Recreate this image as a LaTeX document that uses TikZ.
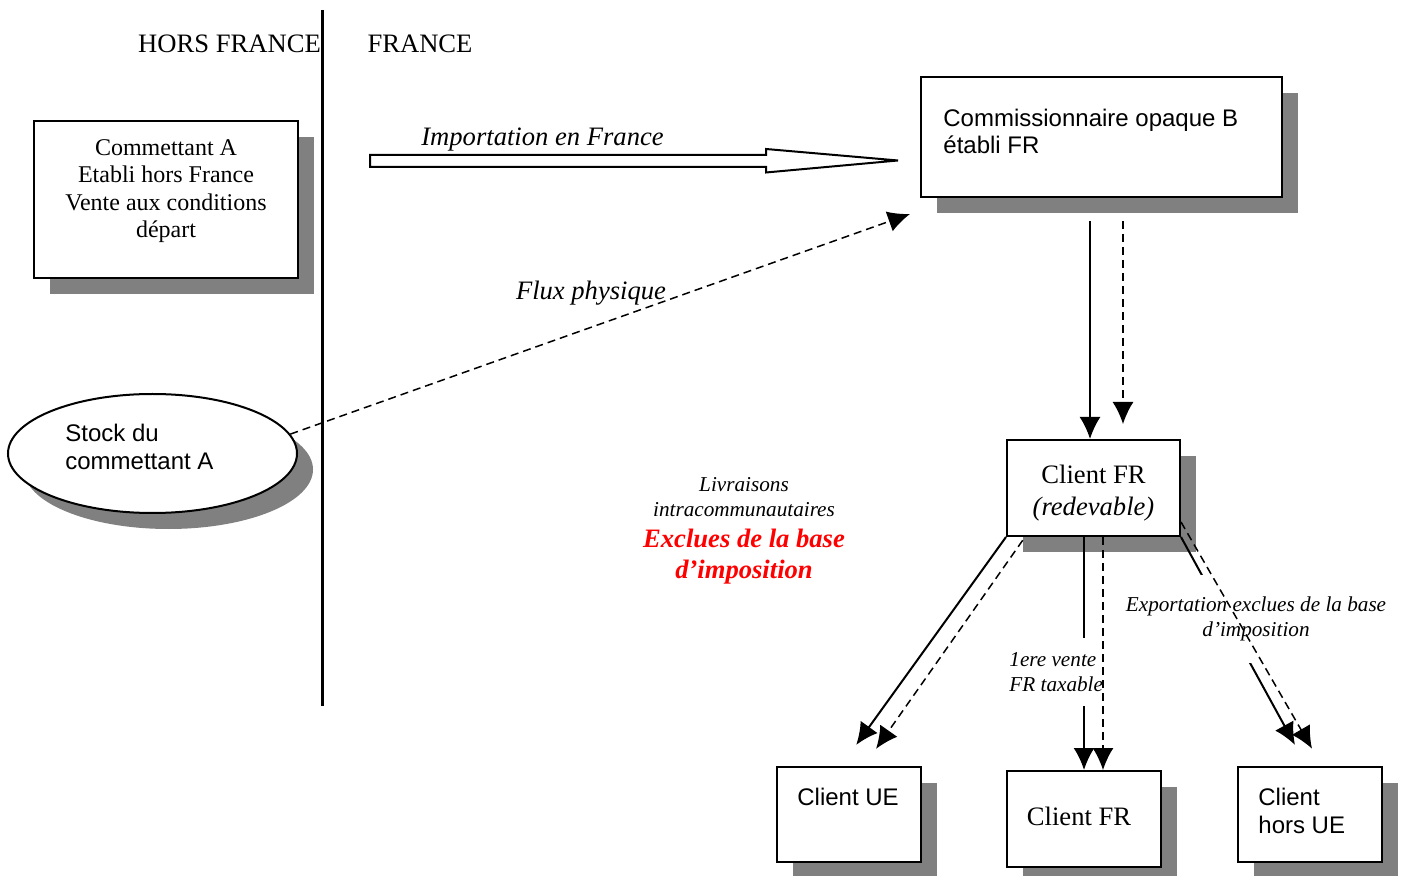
\documentclass[tikz,border=0pt]{standalone}
\usepackage{fontspec}
\setmainfont{Liberation Serif}
\newfontfamily\arialfont{Liberation Sans}
\usetikzlibrary{arrows.meta,shapes.geometric,shadows}
\begin{document}
\begin{tikzpicture}[x=0.5pt, y=-0.5pt, >={Latex[length=11pt,width=10.5pt]},
    ombre/.style={draw, line width=1pt, fill=white, inner sep=0pt,
        drop shadow={shadow xshift=8pt, shadow yshift=-8pt, fill=black!50, opacity=1}},
    txt/.style={inner sep=0pt, align=center, font=\fontsize{12}{13.7}\selectfont},
    gros/.style={inner sep=0pt, align=center, font=\fontsize{13.3}{16}\selectfont},
    arial/.style={inner sep=0pt, align=left, anchor=west, font=\arialfont\fontsize{12}{13.8}\selectfont},
    lab/.style={inner sep=0pt, font=\fontsize{13.3}{16}\selectfont\itshape},
    petit/.style={align=center, font=\fontsize{10.6}{12.5}\selectfont\itshape},
    plein/.style={->, line width=1pt},
    tiret/.style={->, line width=0.75pt, dash pattern=on 4pt off 2.5pt}]
\useasboundingbox (0,0) rectangle (1407,876);
\draw[line width=1.5pt] (322,10)--(322,706);
\node[gros] (hors) at (229.5,44) {HORS FRANCE};
\node[gros] (france) at (420,44) {FRANCE};
\node[ombre, minimum width=132pt, minimum height=78.5pt] (comA) at (166,199.5) {};
\node[txt] (comAtxt) at (166,191) {Commettant A\\Etabli hors France\\Vente aux conditions\\départ};
\node[ombre, ellipse, minimum width=144.5pt, minimum height=59.5pt] (stock) at (152.5,453.5) {};
\node[arial] (stocktxt) at (65,447) {Stock du\\commettant A};
\node[ombre, minimum width=180.5pt, minimum height=60pt] (comB) at (1101.5,137) {};
\node[arial] (comBtxt) at (943,131.5) {Commissionnaire opaque B\\établi FR};
\node[ombre, minimum width=86.5pt, minimum height=48pt] (clientR) at (1093.5,488) {};
\node[gros] (clientRtxt) at (1093.5,493) {Client FR\\\textit{(redevable)}};
\node[ombre, minimum width=72pt, minimum height=47.5pt] (clientUE) at (849,814.5) {};
\node[arial] (clientUEtxt) at (797,797) {Client UE};
\node[ombre, minimum width=77pt, minimum height=48pt] (clientF) at (1084,819) {};
\node[gros] (clientFtxt) at (1079,816) {Client FR};
\node[ombre, minimum width=72pt, minimum height=47.5pt] (clientH) at (1310,814.5) {};
\node[arial] (clientHtxt) at (1258,811) {Client\\hors UE};

\draw[line width=1pt, fill=white] (370,155)--(766,155)--(766,149)--(898,160.5)
    --(766,172.5)--(766,167)--(370,167)--cycle;
\node[lab] (import) at (542.5,139.5) {Importation en France};
\draw[tiret] (stock.8)--([xshift=-5pt,yshift=-8pt]comB.south west);
\node[lab] (flux) at (591,293) {Flux physique};

\draw[plein, shorten <=11.5pt] ([xshift=-5.75pt]comB.south)--([xshift=-1.75pt]clientR.north);
\draw[tiret, shorten <=11.5pt, shorten >=7.5pt] ([xshift=10.75pt]comB.south)--([xshift=14.75pt]clientR.north);

\node[petit, inner sep=0pt] (livr) at (744,497.5) {Livraisons\\intracommunautaires};
\node[inner sep=0pt, align=center, text=red,
    font=\fontsize{13.3}{15.5}\selectfont\bfseries\itshape] (excl) at (744,556.5) {Exclues de la base\\d’imposition};

\draw[plein, shorten >=13pt] (clientR.south west)--([xshift=-4pt]clientUE.north);
\draw[tiret, shorten <=2pt, shorten >=10.5pt] ([xshift=9.5pt]clientR.south west)--([xshift=7.5pt]clientUE.north);

\draw[plein] ([xshift=-4.75pt]clientR.south)--(clientF.north);
\node[petit, align=left, anchor=west, fill=white, inner xsep=1pt, inner ysep=7pt] (vente) at (1007,672) {1ere vente\\FR taxable};
\draw[tiret] ([xshift=4.75pt]clientR.south)--([xshift=9.5pt]clientF.north);

\draw[plein, shorten >=12pt] (clientR.south east)--([xshift=-1.75pt]clientH.north);
\node[petit, fill=white, inner xsep=2pt, inner ysep=11pt] (export) at (1256,619) {Exportation exclues de la base\\d’imposition};
\draw[tiret, shorten >=10pt] ([yshift=-17pt]clientR.east)--([xshift=6pt]clientH.north);
\end{tikzpicture}
\end{document}
